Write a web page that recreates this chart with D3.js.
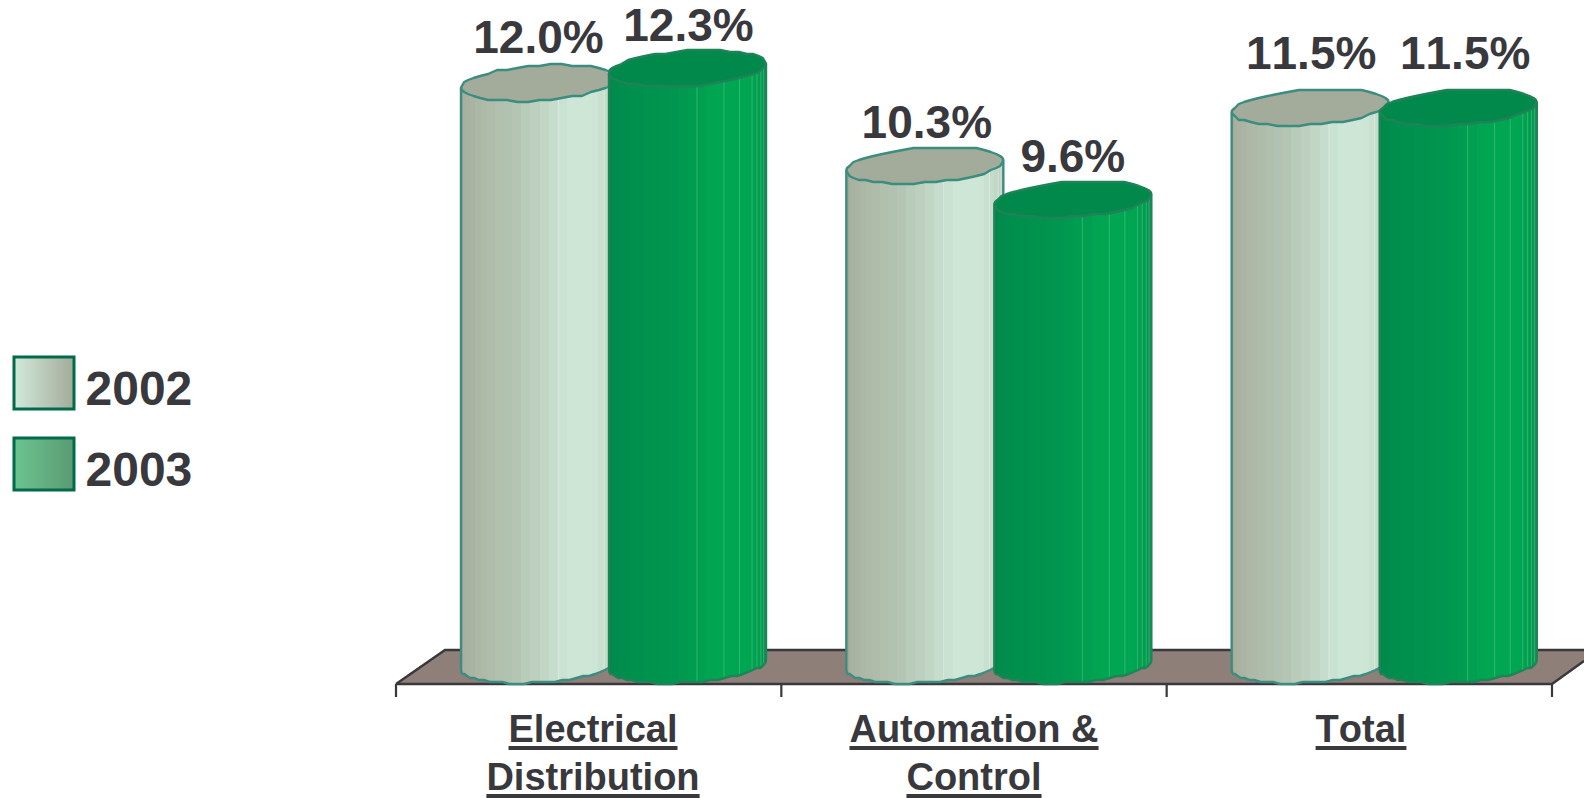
<!DOCTYPE html>
<html><head><meta charset="utf-8">
<script src="https://cdnjs.cloudflare.com/ajax/libs/d3/7.8.5/d3.min.js"></script>
<style>html,body{margin:0;padding:0;background:#fff;overflow:hidden}svg{display:block}
text{font-family:"Liberation Sans",Arial,sans-serif;font-weight:bold;fill:#38383d;font-kerning:none}</style>
</head><body><svg id="c" width="1584" height="798"></svg>
<script>
const categories = ["Electrical\nDistribution", "Automation &\nControl", "Total"];
const series = ["2002", "2003"];
const values2002 = [12.0, 10.3, 11.5];
const values2003 = [12.3, 9.6, 11.5];
const valuesBySeries = [values2002, values2003];

const svg = d3.select("#c"), defs = svg.append("defs");
const W = 1584, axisY = 684, floorTop = 650, floorRise = 49, y0 = 665, pxPerUnit = 48.5;
const x0 = d3.scaleBand().domain(categories).range([396, 1552]);
const x1 = d3.scaleBand().domain(series).range([65, 361]);
const y = d3.scaleLinear().domain([0, 12.3]).range([y0, y0 - 12.3 * pxPerUnit]);
const cylW = x1.bandwidth() + 9, ry = 17.5, tilt = 5, N = 26;
const ink = "#38383d";

const styles = {
  "2002": {
    ramp: d3.scaleLinear().domain([0, .08, .4, .62, .74, .88, 1]).range(["#969b8c", "#a6ae9d", "#b4c4b2", "#cde6d6", "#cde6d6", "#c0d6c5", "#b4c6b5"]),
    top: "#a3ab9a", stroke: "#3c8c80", seam: "#e8f2ea", seams: [14, 20, 22, 23], legend: ["#d2e9da", "#a3ab9a"]
  },
  "2003": {
    ramp: d3.scaleLinear().domain([0, .1, .45, .62, .78, 1]).range(["#00804a", "#008a4c", "#00964f", "#00a651", "#00a651", "#008f4c"]),
    top: "#00894b", stroke: "#1f8358", seam: "#5cc48a", seams: [13, 16, 18, 20, 21, 22, 23, 24], legend: ["#6cc490", "#5a9a72"]
  }
};

// floor
const left = x0.range()[0], right = x0.range()[1];
svg.append("path")
  .attr("d", `M${left},${axisY}L${left + floorRise},${floorTop}H${W}V${axisY - 23}L${right},${axisY}Z`)
  .attr("fill", "#8f7f79");
svg.append("path")
  .attr("d", `M${left},${axisY}L${left + floorRise},${floorTop}H${W}M${W},${axisY - 23}L${right},${axisY}H${left}`)
  .attr("fill", "none").attr("stroke", ink).attr("stroke-width", 2.4);
const ticks = categories.map(c => x0(c)).concat([right]);
svg.selectAll(".tick").data(ticks).join("line").attr("class", "tick")
  .attr("x1", d => d).attr("x2", d => d).attr("y1", axisY).attr("y2", axisY + 13)
  .attr("stroke", ink).attr("stroke-width", 2.2);

const snap = v => Math.round(v / 2) * 2;
function ell(cx, cy, rx, th) {
  return [cx + rx * Math.cos(th), cy + ry * Math.sin(th) - tilt * Math.cos(th)];
}
const lineGen = d3.line();

categories.forEach((cat, ci) => {
  series.forEach((s, si) => {
    const st = styles[s], v = valuesBySeries[si][ci];
    const xl = x0(cat) + x1(s), rx = cylW / 2, cx = xl + rx, cyT = y(v), cyB = y(0);
    const g = svg.append("g");
    const thetas = d3.range(N + 1).map(i => Math.PI - Math.PI * i / N);
    // facets
    thetas.slice(0, -1).forEach((th, i) => {
      const a = ell(cx, cyT, rx, th), b = ell(cx, cyT, rx, thetas[i + 1]);
      const c = ell(cx, cyB, rx, thetas[i + 1]), d = ell(cx, cyB, rx, th);
      g.append("path").attr("d", lineGen([a, [b[0] + 1, b[1]], [c[0] + 1, c[1]], d]) + "Z")
        .attr("fill", st.ramp((i + .5) / N)).attr("shape-rendering", "crispEdges");
    });
    thetas.slice(0, -1).forEach((th, i) => {
      if (!st.seams.includes(i)) return;
      const b = ell(cx, cyT, rx, thetas[i + 1]), c = ell(cx, cyB, rx, thetas[i + 1]);
      g.append("line").attr("x1", b[0]).attr("x2", b[0]).attr("y1", b[1]).attr("y2", c[1])
        .attr("stroke", st.seam).attr("stroke-width", .8).attr("opacity", .7);
    });
    // outline of the bottom and sides
    const bottom = d3.range(33).map(i => { const p = ell(cx, cyB, rx, Math.PI - Math.PI * i / 32); return [p[0], snap(p[1])]; });
    g.append("path")
      .attr("d", lineGen([ell(cx, cyT, rx, Math.PI)].concat(bottom, [ell(cx, cyT, rx, 0)])))
      .attr("fill", "none").attr("stroke", st.stroke).attr("stroke-width", 2.4);
    // top cap
    const cap = d3.range(44).map(i => { const p = ell(cx, cyT, rx, i / 44 * 2 * Math.PI); return [p[0], snap(p[1])]; });
    g.append("path").attr("d", lineGen(cap) + "Z")
      .attr("fill", st.top).attr("stroke", st.stroke).attr("stroke-width", 2.4).attr("stroke-linejoin", "round");
  });
});

// value labels
const labelNudge = [[[-1, -3], [1, 0]], [[2, 0], [0, 0]], [[1, -11], [7, -11]]];
categories.forEach((cat, ci) => series.forEach((s, si) => {
  const v = valuesBySeries[si][ci], n = labelNudge[ci][si];
  svg.append("text").attr("x", x0(cat) + x1(s) + cylW / 2 + n[0]).attr("y", y(v) - 27 + n[1])
    .attr("text-anchor", "middle").attr("font-size", 46).text(v.toFixed(1) + "%");
}));

// category labels
const labelCenters = [593, 974, 1361];
categories.forEach((cat, ci) => {
  cat.split("\n").forEach((ln, li) => {
    const base = 742 + li * 48;
    const t = svg.append("text").attr("x", labelCenters[ci]).attr("y", base).attr("text-anchor", "middle")
      .attr("font-size", 38).text(ln);
    const w = t.node().getComputedTextLength();
    svg.append("line").attr("x1", labelCenters[ci] - w / 2).attr("x2", labelCenters[ci] + w / 2)
      .attr("y1", base + 6).attr("y2", base + 6).attr("stroke", ink).attr("stroke-width", 4);
  });
});

// legend
series.forEach((s, i) => {
  const id = "lg" + s, gr = defs.append("linearGradient").attr("id", id);
  gr.append("stop").attr("offset", "0").attr("stop-color", styles[s].legend[0]);
  gr.append("stop").attr("offset", "1").attr("stop-color", styles[s].legend[1]);
  const top = 357 + i * 81;
  svg.append("rect").attr("x", 14).attr("y", top).attr("width", 60).attr("height", 52)
    .attr("fill", `url(#${id})`).attr("stroke", "#006a4a").attr("stroke-width", 3);
  svg.append("text").attr("x", 85.5).attr("y", top + 48).attr("font-size", 48).text(s);
});
</script></body></html>
